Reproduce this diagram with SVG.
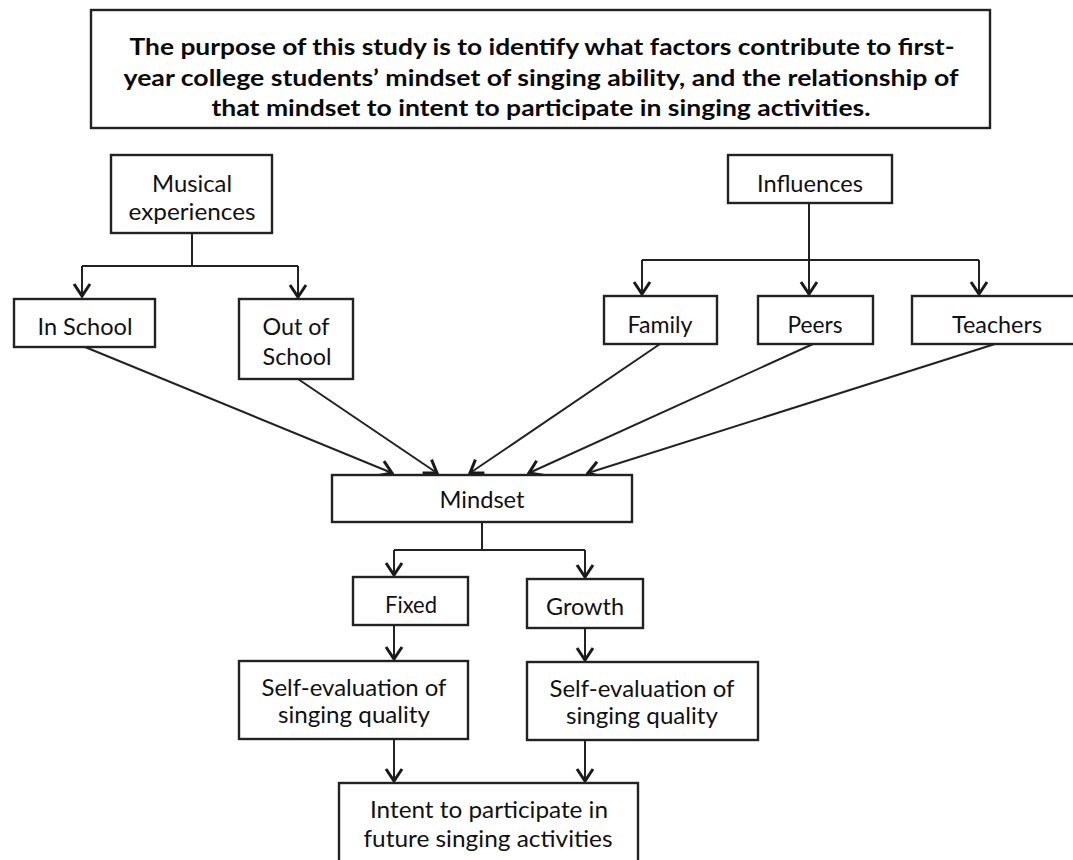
<svg xmlns="http://www.w3.org/2000/svg" width="1073" height="860" viewBox="0 0 1073 860">
<style>
.box{fill:#fff;stroke:#222;stroke-width:2.4}
.t{font-family:Lato,"Open Sans","Liberation Sans",sans-serif;font-size:23px;fill:#111;text-anchor:middle}
.tb{font-family:Lato,"Open Sans","Liberation Sans",sans-serif;font-size:23.5px;font-weight:bold;fill:#0a0a0a;text-anchor:middle}
.c{fill:none;stroke:#222;stroke-width:2}
.a{fill:none;stroke:#222;stroke-width:2;marker-end:url(#arr)}
</style>
<defs>
<marker id="arr" viewBox="-15 -11 17 22" refX="0" refY="0" markerWidth="17" markerHeight="22" markerUnits="userSpaceOnUse" orient="auto">
<path d="M-12,-8 L0,0 L-12,8" fill="none" stroke="#1a1a1a" stroke-width="3"/>
</marker>
</defs>
<rect width="1073" height="860" fill="#fff"/>
<g id="purpose">
<rect class="box" x="91" y="10" width="899" height="118"/>
<text class="tb" x="542" y="55" textLength="825" lengthAdjust="spacingAndGlyphs">The purpose of this study is to identify what factors contribute to first-</text>
<text class="tb" x="541" y="86" textLength="835" lengthAdjust="spacingAndGlyphs">year college students’ mindset of singing ability, and the relationship of</text>
<text class="tb" x="541" y="116" textLength="659" lengthAdjust="spacingAndGlyphs">that mindset to intent to participate in singing activities.</text>
</g>
<g id="connectors">
<path class="c" d="M192,233 V266 M82,266 H298"/>
<path class="a" d="M82,266 V296"/>
<path class="a" d="M298,266 V297"/>
<path class="c" d="M642,260 H979"/>
<path class="a" d="M809,203 V294"/>
<path class="a" d="M642,260 V294"/>
<path class="a" d="M979,260 V294"/>
<path class="a" d="M85,347 L392,473"/>
<path class="a" d="M298,379 L437,473"/>
<path class="a" d="M660,344 L470,473"/>
<path class="a" d="M813,344 L529,473"/>
<path class="a" d="M995,344 L588,473"/>
<path class="c" d="M482,522 V550 M394,550 H585"/>
<path class="a" d="M394,550 V575"/>
<path class="a" d="M585,550 V577"/>
<path class="a" d="M394,625 V659"/>
<path class="a" d="M585,628 V660"/>
<path class="a" d="M394,739 V781"/>
<path class="a" d="M585,740 V781"/>
</g>
<g id="musical">
<rect class="box" x="111" y="155" width="161" height="78"/>
<text class="t" x="192" y="192" textLength="80" lengthAdjust="spacingAndGlyphs">Musical</text>
<text class="t" x="192" y="220" textLength="127" lengthAdjust="spacingAndGlyphs">experiences</text>
</g>
<g id="inschool">
<rect class="box" x="14" y="299" width="141" height="48"/>
<text class="t" x="85" y="335" textLength="95" lengthAdjust="spacingAndGlyphs">In School</text>
</g>
<g id="outschool">
<rect class="box" x="239" y="299" width="114" height="80"/>
<text class="t" x="296" y="335" textLength="67" lengthAdjust="spacingAndGlyphs">Out of</text>
<text class="t" x="297" y="365" textLength="69" lengthAdjust="spacingAndGlyphs">School</text>
</g>
<g id="influences">
<rect class="box" x="728" y="155" width="164" height="48"/>
<text class="t" x="810" y="192" textLength="106" lengthAdjust="spacingAndGlyphs">Influences</text>
</g>
<g id="family">
<rect class="box" x="604" y="296" width="113" height="48"/>
<text class="t" x="660" y="333" textLength="65" lengthAdjust="spacingAndGlyphs">Family</text>
</g>
<g id="peers">
<rect class="box" x="758" y="296" width="115" height="48"/>
<text class="t" x="815" y="333" textLength="55" lengthAdjust="spacingAndGlyphs">Peers</text>
</g>
<g id="teachers">
<rect class="box" x="912" y="296" width="170" height="48"/>
<text class="t" x="997" y="333" textLength="90" lengthAdjust="spacingAndGlyphs">Teachers</text>
</g>
<g id="mindset">
<rect class="box" x="332" y="475" width="300" height="47"/>
<text class="t" x="482" y="508" textLength="85" lengthAdjust="spacingAndGlyphs">Mindset</text>
</g>
<g id="fixed">
<rect class="box" x="353" y="577" width="115" height="48"/>
<text class="t" x="411" y="613" textLength="52" lengthAdjust="spacingAndGlyphs">Fixed</text>
</g>
<g id="growth">
<rect class="box" x="527" y="579" width="116" height="49"/>
<text class="t" x="585" y="615" textLength="78" lengthAdjust="spacingAndGlyphs">Growth</text>
</g>
<g id="selfeval-fixed">
<rect class="box" x="239" y="661" width="229" height="78"/>
<text class="t" x="354" y="696" textLength="185" lengthAdjust="spacingAndGlyphs">Self-evaluation of</text>
<text class="t" x="354" y="723" textLength="152" lengthAdjust="spacingAndGlyphs">singing quality</text>
</g>
<g id="selfeval-growth">
<rect class="box" x="527" y="662" width="231" height="78"/>
<text class="t" x="642" y="697" textLength="185" lengthAdjust="spacingAndGlyphs">Self-evaluation of</text>
<text class="t" x="642" y="724" textLength="152" lengthAdjust="spacingAndGlyphs">singing quality</text>
</g>
<g id="intent">
<rect class="box" x="339" y="783" width="299" height="90"/>
<text class="t" x="489" y="818" textLength="238" lengthAdjust="spacingAndGlyphs">Intent to participate in</text>
<text class="t" x="488" y="847" textLength="249" lengthAdjust="spacingAndGlyphs">future singing activities</text>
</g>
</svg>
